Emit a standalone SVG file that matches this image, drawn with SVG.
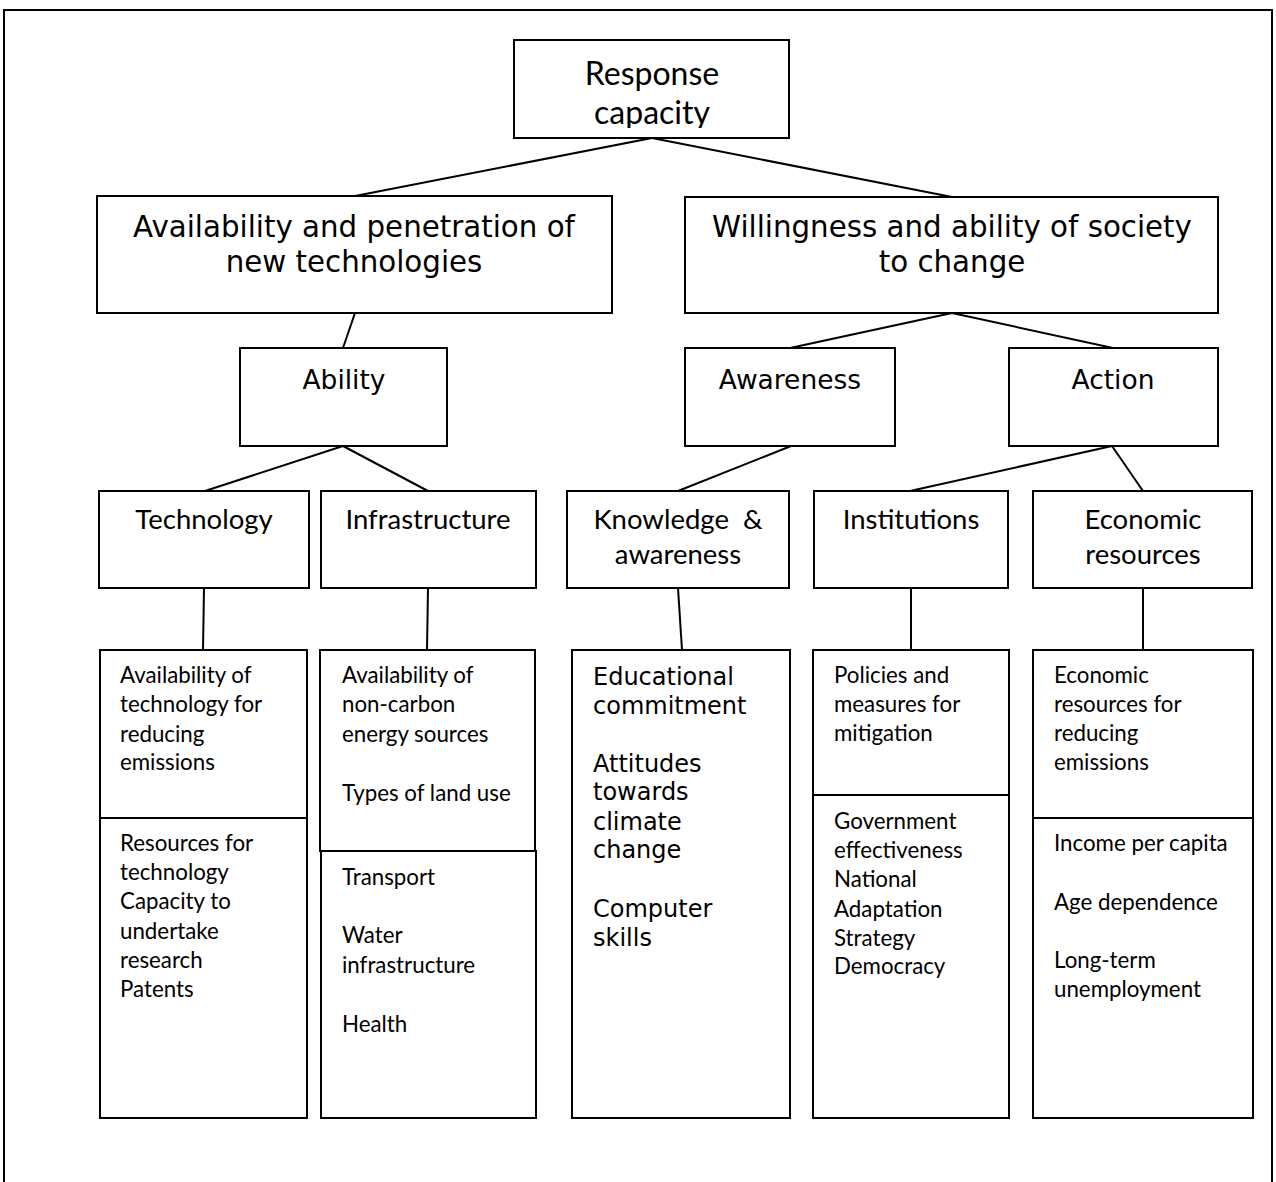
<svg xmlns="http://www.w3.org/2000/svg" width="1276" height="1182" viewBox="0 0 1276 1182">
<style>
.box{fill:#fff;stroke:#000;stroke-width:2}
.ln{stroke:#000;stroke-width:2;fill:none}
.v{font-family:"DejaVu Sans",Verdana,sans-serif;fill:#000}
.c{font-family:Lato,Carlito,"Liberation Sans",sans-serif;fill:#000}
.h0{font-size:32px;text-anchor:middle}
.h1{font-size:29.3px;text-anchor:middle}
.h2{font-size:26.5px;text-anchor:middle}
.h3{font-size:27.5px;text-anchor:middle}
.t{font-size:22.3px}
.e{font-size:24px}
</style>
<defs>
<clipPath id="rcClip"><rect x="514" y="40" width="276" height="88"/></clipPath>
</defs>
<rect id="frame" x="4" y="10" width="1268" height="1190" fill="#fff" stroke="#000" stroke-width="2"/>
<g id="connectors">
<line class="ln" x1="652" y1="138" x2="355" y2="196"/>
<line class="ln" x1="652" y1="138" x2="952" y2="197"/>
<line class="ln" x1="355" y1="313" x2="343" y2="348"/>
<line class="ln" x1="952" y1="313" x2="790" y2="348"/>
<line class="ln" x1="952" y1="313" x2="1113" y2="348"/>
<line class="ln" x1="343" y1="446" x2="205" y2="491"/>
<line class="ln" x1="343" y1="446" x2="428" y2="491"/>
<line class="ln" x1="791" y1="446" x2="678" y2="491"/>
<line class="ln" x1="1112" y1="446" x2="910" y2="491"/>
<line class="ln" x1="1112" y1="446" x2="1143" y2="491"/>
<line class="ln" x1="204" y1="588" x2="203" y2="650"/>
<line class="ln" x1="428" y1="588" x2="427" y2="650"/>
<line class="ln" x1="678" y1="588" x2="682" y2="650"/>
<line class="ln" x1="911" y1="588" x2="911" y2="650"/>
<line class="ln" x1="1143" y1="588" x2="1143" y2="650"/>
</g>
<g id="response-capacity">
<rect class="box" x="514" y="40" width="275" height="98"/>
<g clip-path="url(#rcClip)">
<text class="c h0" x="652" y="85">Response</text>
<text class="c h0" x="652" y="124">capacity</text>
</g>
</g>
<g id="availability">
<rect class="box" x="97" y="196" width="515" height="117"/>
<text class="v h1" x="354" y="237">Availability and penetration of</text>
<text class="v h1" x="354" y="272">new technologies</text>
</g>
<g id="willingness">
<rect class="box" x="685" y="197" width="533" height="116"/>
<text class="v h1" x="952" y="237">Willingness and ability of society</text>
<text class="v h1" x="952" y="272">to change</text>
</g>
<g id="ability">
<rect class="box" x="240" y="348" width="207" height="98"/>
<text class="v h2" x="344" y="389">Ability</text>
</g>
<g id="awareness">
<rect class="box" x="685" y="348" width="210" height="98"/>
<text class="v h2" x="790" y="389">Awareness</text>
</g>
<g id="action">
<rect class="box" x="1009" y="348" width="209" height="98"/>
<text class="v h2" x="1113" y="389">Action</text>
</g>
<g id="technology">
<rect class="box" x="99" y="491" width="210" height="97"/>
<text class="c h3" x="204" y="529">Technology</text>
</g>
<g id="infrastructure">
<rect class="box" x="321" y="491" width="215" height="97"/>
<text class="c h3" x="428" y="529">Infrastructure</text>
</g>
<g id="knowledge">
<rect class="box" x="567" y="491" width="222" height="97"/>
<text class="c h3" x="678" y="529" xml:space="preserve">Knowledge  &amp;</text>
<text class="c h3" x="678" y="564">awareness</text>
</g>
<g id="institutions">
<rect class="box" x="814" y="491" width="194" height="97"/>
<text class="c h3" x="911" y="529">Institutions</text>
</g>
<g id="economic">
<rect class="box" x="1033" y="491" width="219" height="97"/>
<text class="c h3" x="1143" y="529">Economic</text>
<text class="c h3" x="1143" y="564">resources</text>
</g>
<g id="tech-indicators">
<rect class="box" x="100" y="650" width="207" height="468"/>
<line class="ln" x1="100" y1="818" x2="307" y2="818"/>
<text class="c t" x="120" y="683">Availability of</text>
<text class="c t" x="120" y="712">technology for</text>
<text class="c t" x="120" y="742">reducing</text>
<text class="c t" x="120" y="770">emissions</text>
<text class="c t" x="120" y="851">Resources for</text>
<text class="c t" x="120" y="880">technology</text>
<text class="c t" x="120" y="909">Capacity to</text>
<text class="c t" x="120" y="939">undertake</text>
<text class="c t" x="120" y="968">research</text>
<text class="c t" x="120" y="997">Patents</text>
</g>
<g id="infra-indicators">
<rect class="box" x="320" y="650" width="215" height="201"/>
<rect class="box" x="321" y="851" width="215" height="267"/>
<text class="c t" x="342" y="683">Availability of</text>
<text class="c t" x="342" y="712">non-carbon</text>
<text class="c t" x="342" y="742">energy sources</text>
<text class="c t" x="342" y="801">Types of land use</text>
<text class="c t" x="342" y="885">Transport</text>
<text class="c t" x="342" y="943">Water</text>
<text class="c t" x="342" y="973">infrastructure</text>
<text class="c t" x="342" y="1032">Health</text>
</g>
<g id="knowledge-indicators">
<rect class="box" x="572" y="650" width="218" height="468"/>
<text class="v e" x="593" y="685">Educational</text>
<text class="v e" x="593" y="714">commitment</text>
<text class="v e" x="593" y="772">Attitudes</text>
<text class="v e" x="593" y="800">towards</text>
<text class="v e" x="593" y="830">climate</text>
<text class="v e" x="593" y="858">change</text>
<text class="v e" x="593" y="917">Computer</text>
<text class="v e" x="593" y="946">skills</text>
</g>
<g id="institutions-indicators">
<rect class="box" x="813" y="650" width="196" height="468"/>
<line class="ln" x1="813" y1="795" x2="1009" y2="795"/>
<text class="c t" x="834" y="683">Policies and</text>
<text class="c t" x="834" y="712">measures for</text>
<text class="c t" x="834" y="741">mitigation</text>
<text class="c t" x="834" y="829">Government</text>
<text class="c t" x="834" y="858">effectiveness</text>
<text class="c t" x="834" y="887">National</text>
<text class="c t" x="834" y="917">Adaptation</text>
<text class="c t" x="834" y="946">Strategy</text>
<text class="c t" x="834" y="974">Democracy</text>
</g>
<g id="economic-indicators">
<rect class="box" x="1033" y="650" width="220" height="468"/>
<line class="ln" x1="1033" y1="818" x2="1253" y2="818"/>
<text class="c t" x="1054" y="683">Economic</text>
<text class="c t" x="1054" y="712">resources for</text>
<text class="c t" x="1054" y="741">reducing</text>
<text class="c t" x="1054" y="770">emissions</text>
<text class="c t" x="1054" y="851">Income per capita</text>
<text class="c t" x="1054" y="910">Age dependence</text>
<text class="c t" x="1054" y="968">Long-term</text>
<text class="c t" x="1054" y="997">unemployment</text>
</g>
</svg>
